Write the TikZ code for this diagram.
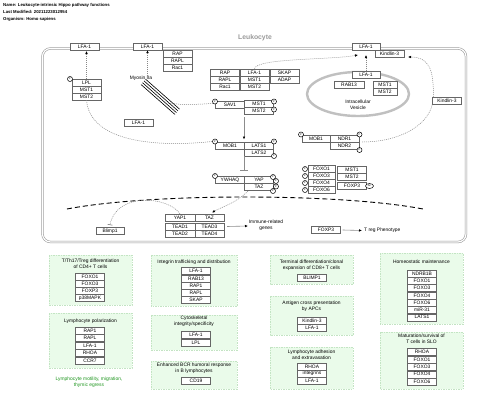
\documentclass[tikz,border=0pt]{standalone}
\usepackage{fontspec}
\setmainfont{Liberation Sans}
\usetikzlibrary{arrows.meta,shapes.geometric}
\definecolor{panelfill}{RGB}{234,251,234}
\definecolor{paneldraw}{RGB}{195,228,195}
\definecolor{memb}{RGB}{150,150,150}
\definecolor{vesc}{RGB}{192,192,192}
\definecolor{dotc}{RGB}{135,135,135}
\definecolor{gtext}{RGB}{30,150,30}
\newcommand{\gf}{\fontsize{4.9}{5.6}\selectfont}
\newcommand{\hf}{\fontsize{4.3}{5}\selectfont\bfseries}
\begin{document}
\begin{tikzpicture}[x=1pt,y=-1pt,
  gene/.style={draw=black!60, fill=white, line width=0.4pt, minimum width=29pt, minimum height=7pt, inner sep=0pt, font=\gf},
  pc/.style={circle, draw=black, fill=white, line width=0.5pt, minimum size=5pt, inner sep=0pt, font=\fontsize{2.5}{3}\selectfont},
  panel/.style={draw=paneldraw, fill=panelfill, line width=0.5pt, dash pattern=on 1.5pt off 1pt},
  dotl/.style={draw=dotc, line width=0.5pt, dash pattern=on 1pt off 1pt},
  arr/.style={-{Latex[length=3pt,width=2.6pt,color=black]}},
  lbl/.style={font=\gf, align=center, inner sep=0pt},
  hdr/.style={font=\hf, anchor=west, inner sep=0pt}]
\useasboundingbox (0,0) rectangle (480,402);
\fill[white] (0,0) rectangle (480,402);
% header
\node[hdr] (h1) at (3,5) {Name: Leukocyte-intrinsic Hippo pathway functions};
\node[hdr] (h2) at (3,12) {Last Modified: 20211223012954};
\node[hdr] (h3) at (3,19) {Organism: Homo sapiens};
% membrane
\draw[memb, line width=0.55pt, double=white, double distance=1.2pt, rounded corners=8pt] (42.5,48.5) rectangle (466,242);
\node[font=\fontsize{6.8}{7}\selectfont\bfseries, text=black!40] (title) at (255,38) {Leukocyte};
% vesicle
\draw[vesc, line width=2.4pt] (358,94) ellipse [x radius=51, y radius=22];
\node[lbl] (ves) at (358,104.5) {Intracellular\\Vesicle};
% top genes
\node[gene] (lfaA) at (84.5,46.5) {LFA-1};
\node[gene] (lfaB) at (147.5,46.5) {LFA-1};
\node[gene] (rapA) at (177.5,54) {RAP};
\node[gene] (raplA) at (177.5,61) {RAPL};
\node[gene] (racA) at (177.5,68) {Rac1};
\node[gene,minimum width=28pt] (lfaTR) at (366,46.5) {LFA-1};
\node[gene] (kindA) at (389.5,54) {Kindlin-3};
\node[gene] (lpl) at (86.5,82.5) {LPL};
\node[gene] (mst1a) at (86.5,89.5) {MST1};
\node[gene] (mst2a) at (86.5,96.5) {MST2};
\node[pc] (pLpl) at (70,79) {P};
\node[gene] (rapB) at (225,73) {RAP};
\node[gene] (raplB) at (225,80) {RAPL};
\node[gene] (racB) at (225,87) {Rac1};
\node[gene] (lfaC) at (254.5,72.5) {LFA-1};
\node[gene] (mst1c) at (254.5,80) {MST1};
\node[gene] (mst2c) at (254.5,87) {MST2};
\node[gene] (skap) at (284.5,72.5) {SKAP};
\node[gene] (adap) at (284.5,79.5) {ADAP};
\node[gene,minimum width=28pt] (lfaV) at (366,75) {LFA-1};
\node[gene,minimum width=30pt] (rab13) at (349,85) {RAB13};
\node[gene,minimum width=24pt] (mst1v) at (385,85) {MST1};
\node[gene,minimum width=24pt] (mst2v) at (385,92) {MST2};
\node[gene] (kindR) at (447,100.5) {Kindlin-3};
\node[gene] (lfaD) at (138.5,122.5) {LFA-1};
% myosin
\node[lbl] (myo) at (141,78.5) {Myosin IIa};
\foreach \d in {0,1.5,3,4.5}{
  \draw[black, line width=0.6pt] (141+\d,84.5-1.2*\d) -- (175+\d,114.5-1.2*\d);
}
\coordinate (myoEnd) at (168,103);
% Hippo core
\node[gene] (sav1) at (230,104.5) {SAV1};
\node[gene] (mst1s) at (259,104) {MST1};
\node[gene] (mst2s) at (259,111) {MST2};
\node[pc] (pSav) at (215,101.5) {P};
\node[pc] (pMst1) at (274,101.5) {P};
\node[pc] (pMst2) at (274,109.5) {P};
\node[gene] (mob1) at (230,146) {MOB1};
\node[gene] (lats1) at (259,145.5) {LATS1};
\node[gene] (lats2) at (259,152.5) {LATS2};
\node[pc] (pMob) at (215,141.5) {P};
\node[pc] (pLats1) at (274,141.5) {P};
\node[pc] (pLats2) at (274,156) {P};
\node[gene] (ywhaq) at (230,180) {YWHAQ};
\node[gene] (yap) at (259,180) {YAP};
\node[gene] (taz) at (259,187) {TAZ};
\node[pc] (pYw) at (215,176) {P};
\node[pc] (pYap1) at (273,177) {P};
\node[pc] (pYap2) at (276,181) {P};
\node[pc] (pTaz1) at (276,186.5) {P};
\node[pc] (pTaz2) at (273,191) {P};
% NDR
\node[gene,minimum width=28pt] (mob1r) at (316,138.5) {MOB1};
\node[gene] (ndr1) at (344.5,138.5) {NDR1};
\node[gene] (ndr2) at (344.5,145.5) {NDR2};
\node[pc] (pMobr) at (301,134.5) {P};
\node[pc] (pNdr1) at (359.5,134.5) {P};
\node[pc] (pNdr2) at (359.5,150) {P};
% FOXO
\node[gene,minimum width=27pt] (foxo1) at (321.5,169) {FOXO1};
\node[gene,minimum width=27pt] (foxo3) at (321.5,176) {FOXO3};
\node[gene,minimum width=27pt] (foxo4) at (321.5,183) {FOXO4};
\node[gene,minimum width=27pt] (foxo6) at (321.5,190) {FOXO6};
\node[pc] (pF1) at (305,169) {P};
\node[pc] (pF3) at (305,176) {P};
\node[pc] (pF4) at (305,183) {P};
\node[pc] (pF6) at (305,190) {P};
\node[gene] (mst1f) at (352,169.5) {MST1};
\node[gene] (mst2f) at (352,176.5) {MST2};
\node[gene] (foxp3f) at (352,186) {FOXP3};
\node[ellipse, draw=black, fill=white, line width=0.5pt, minimum width=8pt, minimum height=5pt, inner sep=0pt, font=\fontsize{2.8}{3}\selectfont] (ac) at (369.5,186) {Ac};
% nucleus
\draw[black, line width=0.9pt, dash pattern=on 5pt off 3pt] (67,209) .. controls (150,193) and (340,193) .. (423,209);
\node[gene,minimum width=30pt] (yap1) at (180,217.5) {YAP1};
\node[gene] (tazn) at (209.5,217.5) {TAZ};
\node[gene,minimum width=30pt] (tead1) at (180,226.5) {TEAD1};
\node[gene] (tead3) at (209.5,226.5) {TEAD3};
\node[gene,minimum width=30pt] (tead2) at (180,233.5) {TEAD2};
\node[gene] (tead4) at (209.5,233.5) {TEAD4};
\node[lbl] (genes) at (266,225.5) {Immune-related\\genes};
\node[gene,minimum width=28pt] (blimp1) at (110,231) {Blimp1};
\node[gene] (foxp3n) at (326,230) {FOXP3};
\node[lbl, anchor=west] (treg) at (364,230.5) {T reg Phenotype};
% connectors
\draw[dotl,arr] (lpl.north) -- (lpl.north |- 0,51);
\draw[dotl,arr] (myo.north -| lfaB) -- (lfaB.south);
\draw[dotl,arr] (lfaC.north) .. controls (256,58) and (330,60) .. (358,55);
\draw[dotl,arr] (lfaV.north) -- (366,55);
\draw[dotl,arr] (kindR.north west) ++(1,0) .. controls (434,68) and (428,57) .. (408,57);
\draw[dotl] (ndr1.east |- 0,142) ++(3,0) .. controls (400,142) and (428,125) .. (kindR.south west);
\draw[dotl] (mst2a.south) .. controls (90,140) and (150,148) .. (pMob.west);
\draw[dotl] (myoEnd) .. controls (185,105) .. (pSav.south west);
\draw[draw=black!45, line width=0.6pt, arr] (244,117) -- (244,139.5);
\draw[draw=black!45, line width=0.6pt, -{Bar[width=8pt]}] (244,156) -- (244,171);
\draw[dotl,arr] (248,191) .. controls (236,203) and (224,206) .. (212,212.5);
\draw[dotl,-{Bar[width=5pt,color=black!60]}] (yap1.north) .. controls (168,196) and (116,192) .. (110,225);
\draw[draw=black!45, line width=0.6pt, arr] (tead3.east) ++(3,0) -- (248,226);
\draw[draw=black!45, line width=0.6pt, arr] (foxp3n.east) ++(2,0) -- (362,230.5);
% panels
\filldraw[panel] (49,255) rectangle (132,305);
\node[lbl] (t1) at (90.5,264) {T/Th17/Treg differentiation\\of CD4+ T cells};
\node[gene] (p1a) at (90,277) {FOXO1};
\node[gene] (p1b) at (90,284) {FOXO3};
\node[gene] (p1c) at (90,291) {FOXP3};
\node[gene] (p1d) at (90,298) {p38MAPK};
\filldraw[panel] (49,313) rectangle (132,368);
\node[lbl] (t2) at (90.5,321) {Lymphocyte polarization};
\node[gene] (p2a) at (90,330.5) {RAP1};
\node[gene] (p2b) at (90,338) {RAPL};
\node[gene] (p2c) at (90,345.5) {LFA-1};
\node[gene] (p2d) at (90,353) {RHOA};
\node[gene] (p2e) at (90,360.5) {CCR7};
\node[lbl, text=gtext] (gt) at (89,382.5) {Lymphocyte motility, migration,\\thymic egress};
\filldraw[panel] (151,255) rectangle (237,306);
\node[lbl] (t3) at (194,262.5) {Integrin trafficking and distribution};
\node[gene] (p3a) at (196,271) {LFA-1};
\node[gene] (p3b) at (196,278.5) {RAB13};
\node[gene] (p3c) at (196,285.5) {RAP1};
\node[gene] (p3d) at (196,292.5) {RAPL};
\node[gene] (p3e) at (196,299.5) {SKAP};
\filldraw[panel] (151,315) rectangle (237,350);
\node[lbl] (t4) at (194,321.5) {Cytoskeletal\\integrity/specificity};
\node[gene] (p4a) at (196,335) {LFA-1};
\node[gene] (p4b) at (196,342.5) {LPL};
\filldraw[panel] (151,361) rectangle (237,389);
\node[lbl] (t5) at (194,368.5) {Enhanced BCR humoral response\\in B lymphocytes};
\node[gene] (p5a) at (196,381) {CD19};
\filldraw[panel] (270,255) rectangle (353,284);
\node[lbl] (t6) at (311.5,265) {Terminal differentiation/clonal\\expansion of CD8+ T cells};
\node[gene] (p6a) at (312,277.5) {BLIMP1};
\filldraw[panel] (270,296) rectangle (353,335);
\node[lbl] (t7) at (311.5,306) {Antigen cross presentation\\by APCs};
\node[gene] (p7a) at (312,320.5) {Kindlin-3};
\node[gene] (p7b) at (312,327.5) {LFA-1};
\filldraw[panel] (270,347) rectangle (353,389);
\node[lbl] (t8) at (311.5,354.5) {Lymphocyte adhesion\\and extravasation};
\node[gene] (p8a) at (312,366.5) {RHOA};
\node[gene] (p8b) at (312,373.5) {integrins};
\node[gene] (p8c) at (312,381) {LFA-1};
\filldraw[panel] (380,253) rectangle (463,324);
\node[lbl] (t9) at (421.5,262) {Homeostatic maintenance};
\node[gene] (p9a) at (422,273.5) {NDRB1B};
\node[gene] (p9b) at (422,280.8) {FOXO1};
\node[gene] (p9c) at (422,288.1) {FOXO3};
\node[gene] (p9d) at (422,295.4) {FOXO4};
\node[gene] (p9e) at (422,302.7) {FOXO6};
\node[gene] (p9f) at (422,310) {miR-31};
\node[gene] (p9g) at (422,317.3) {LATS1};
\filldraw[panel] (380,332) rectangle (463,389);
\node[lbl] (t10) at (421.5,338.5) {Maturation/survival of\\T cells in SLO};
\node[gene] (p10a) at (422,352) {RHOA};
\node[gene] (p10b) at (422,359.4) {FOXO1};
\node[gene] (p10c) at (422,366.8) {FOXO3};
\node[gene] (p10d) at (422,374.2) {FOXO4};
\node[gene] (p10e) at (422,381.6) {FOXO6};
\end{tikzpicture}
\end{document}
